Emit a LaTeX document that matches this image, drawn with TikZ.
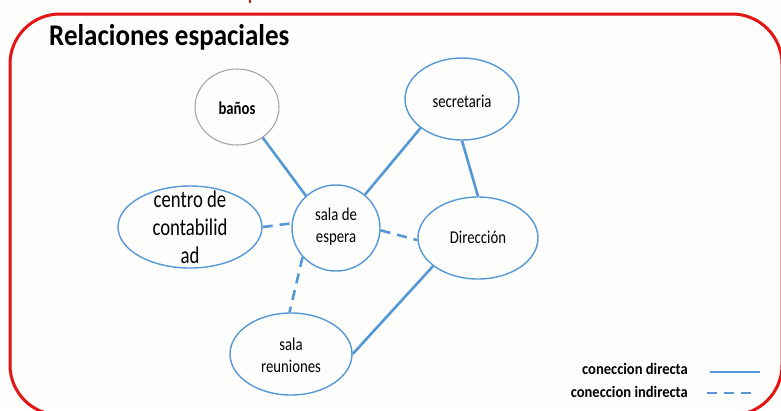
\documentclass[tikz,border=0pt]{standalone}
\usepackage{fontspec}
\setmainfont{Carlito}
\newfontfamily\nodefont[FakeStretch=0.82]{Carlito}
\newfontfamily\bigfont[FakeStretch=0.78]{Carlito}
\newfontfamily\titlefont[FakeStretch=0.9]{Carlito}
\newfontfamily\legfont[FakeStretch=0.91]{Carlito}
\usetikzlibrary{shapes.geometric}
\definecolor{frame}{RGB}{226,20,20}
\definecolor{link}{RGB}{86,152,214}
\definecolor{ring}{RGB}{166,166,166}
\definecolor{paper}{RGB}{253,253,251}
\begin{document}
\begin{tikzpicture}[x=1bp,y=-1bp,
  room/.style={ellipse, draw=link, line width=1.4bp, inner sep=0pt},
  roomtext/.style={inner sep=0pt, align=center, text=black,
    font=\fontsize{18bp}{22bp}\nodefont},
  direct/.style={draw=link, line width=2.6bp},
  indirect/.style={direct, dash pattern=on 10bp off 7bp},
  legendtext/.style={inner sep=0pt, anchor=base east,
    font=\fontsize{16bp}{19bp}\legfont\bfseries}]
\fill[paper] (0,0) rectangle (781,410);
\useasboundingbox (0,0) rectangle (781,410);
% frame
\draw[frame, line width=3bp, rounded corners=50bp] (10,14) rectangle (782,415);
\fill[frame] (249,0) rectangle (251,3);
% title
\node[anchor=base west, inner sep=0pt, font=\fontsize{30bp}{36bp}\titlefont\bfseries] (title) at (49,45) {Relaciones espaciales};
% rooms
\node[room, draw=ring, line width=1.1bp, minimum width=84bp, minimum height=76bp] (banos) at (237,107) {};
\node[room, minimum width=114bp, minimum height=82bp] (secretaria) at (462,99) {};
\node[room, minimum width=120bp, minimum height=82bp] (direccion) at (478,238) {};
\node[room, minimum width=88bp, minimum height=86bp] (espera) at (336,228) {};
\node[room, minimum width=144bp, minimum height=82bp] (centro) at (190,227) {};
\node[room, minimum width=122bp, minimum height=82bp] (reuniones) at (291,354) {};
% texts
\node[roomtext, anchor=base, font=\fontsize{18bp}{22bp}\nodefont\bfseries] (banosT) at (237,114) {baños};
\node[roomtext, anchor=base] (secretariaT) at (462,107) {secretaria};
\node[roomtext, anchor=base] (direccionT) at (478,243) {Dirección};
\node[roomtext, font=\fontsize{18bp}{22bp}\nodefont] (esperaT) at (336,227) {sala de\\espera};
\node[roomtext, font=\fontsize{24bp}{28bp}\bigfont] (centroT) at (190,227) {centro de\\contabilid\\ad};
\node[roomtext] (reunionesT) at (291,355) {sala\\reuniones};
% connections
\draw[direct] (banos.310) -- (espera.133);
\draw[direct] (secretaria.215) -- (espera.49);
\draw[direct] (secretaria.south) -- (direccion.north);
\draw[direct] (direccion.212) -- (reuniones.east);
\draw[indirect] (centro.east) -- (espera.174);
\draw[indirect] (espera.357) -- (direccion.182);
\draw[indirect] (espera.221) -- (reuniones.92);
% legend
\node[legendtext] (legD) at (688,374) {coneccion directa};
\node[legendtext] (legI) at (688,397) {coneccion indirecta};
\coordinate (dA) at (710,372);
\coordinate (dB) at (760,372);
\coordinate (iA) at (707,393);
\coordinate (iB) at (752,393);
\draw[direct] (dA) -- (dB);
\draw[indirect] (iA) -- (iB);
\end{tikzpicture}
\end{document}
